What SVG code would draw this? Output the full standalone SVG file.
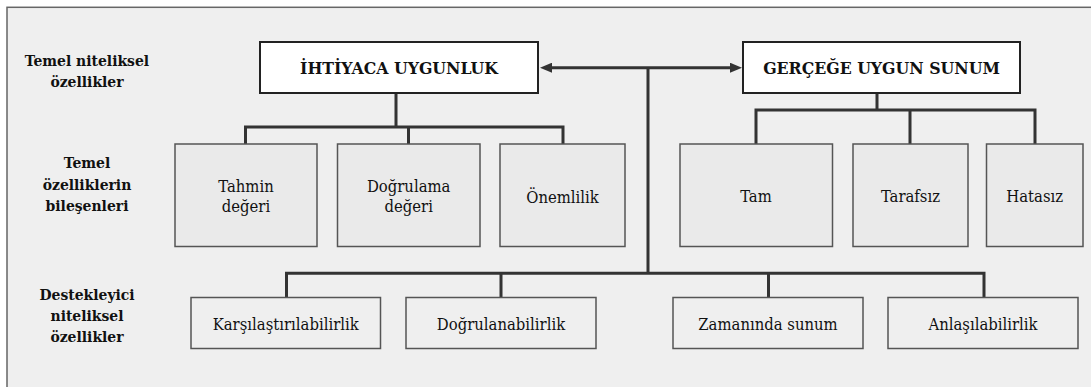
<svg xmlns="http://www.w3.org/2000/svg" width="1091" height="387" viewBox="0 0 1091 387">
<style>
  text { font-family: "DejaVu Serif Condensed", "DejaVu Serif", serif; font-stretch: condensed; font-size: 16.5px; fill: #111; text-anchor: middle; }
  .lbl { font-weight: bold; font-size: 15.5px; }
  .title { font-weight: bold; font-size: 17.5px; }
  .top { fill: #ffffff; stroke: #222; stroke-width: 2; }
  .mid { fill: #eaeaea; stroke: #555; stroke-width: 1.5; }
  .bot { fill: #efefef; stroke: #555; stroke-width: 1.5; }
  .conn { fill: none; stroke: #333; stroke-width: 3; }
</style>
<defs>
  <marker id="ah" markerUnits="userSpaceOnUse" markerWidth="12" markerHeight="10" refX="4" refY="5" orient="auto-start-reverse">
    <path d="M0,0 L12,5 L0,10 z" fill="#333"/>
  </marker>
</defs>
<rect x="0" y="0" width="1091" height="387" fill="#ffffff"/>
<rect x="7" y="7.3" width="1100" height="400" fill="#efefef" stroke="#666" stroke-width="1.5"/>

<g id="row-labels">
  <g id="label-temel">
    <text class="lbl" x="87" y="66">Temel niteliksel</text>
    <text class="lbl" x="87" y="87">özellikler</text>
  </g>
  <g id="label-bilesen">
    <text class="lbl" x="87" y="168">Temel</text>
    <text class="lbl" x="87" y="189.5">özelliklerin</text>
    <text class="lbl" x="87" y="211">bileşenleri</text>
  </g>
  <g id="label-destek">
    <text class="lbl" x="87" y="300">Destekleyici</text>
    <text class="lbl" x="87" y="321">niteliksel</text>
    <text class="lbl" x="87" y="342">özellikler</text>
  </g>
</g>

<g id="connectors">
  <path class="conn" d="M396,93 V127 M245.5,144 V127 H563 V144 M408.5,127 V144"/>
  <path class="conn" d="M877,93 V110 M756,144 V110 H1035 V144 M910,110 V144"/>
  <path class="conn" d="M648,67.7 V273.3 M286.5,297.5 V273.3 H984 V297.5 M501,273.3 V297.5 M768.5,273.3 V297.5"/>
  <line class="conn" x1="548" y1="67.7" x2="734" y2="67.7" marker-start="url(#ah)" marker-end="url(#ah)"/>
</g>

<g id="ihtiyaca">
  <rect class="top" x="260" y="42" width="278" height="51"/>
  <text class="title" x="399" y="74">İHTİYACA UYGUNLUK</text>
</g>
<g id="gercege">
  <rect class="top" x="743" y="42" width="277" height="51"/>
  <text class="title" x="881.5" y="74">GERÇEĞE UYGUN SUNUM</text>
</g>

<g id="tahmin">
  <rect class="mid" x="175" y="144" width="142" height="102.5"/>
  <text x="246" y="192">Tahmin</text>
  <text x="246" y="212">değeri</text>
</g>
<g id="dogrulama">
  <rect class="mid" x="337.5" y="144" width="142.5" height="102.5"/>
  <text x="408.7" y="192">Doğrulama</text>
  <text x="408.7" y="212">değeri</text>
</g>
<g id="onemlilik">
  <rect class="mid" x="500" y="144" width="125" height="102.5"/>
  <text x="562.5" y="202.5">Önemlilik</text>
</g>
<g id="tam">
  <rect class="mid" x="680" y="144" width="152.5" height="102.5"/>
  <text x="756" y="202">Tam</text>
</g>
<g id="tarafsiz">
  <rect class="mid" x="853" y="144" width="115" height="102.5"/>
  <text x="910.5" y="202">Tarafsız</text>
</g>
<g id="hatasiz">
  <rect class="mid" x="986.5" y="144" width="96.5" height="102.5"/>
  <text x="1034.7" y="202">Hatasız</text>
</g>

<g id="karsilastirilabilirlik">
  <rect class="bot" x="191" y="297.5" width="189.5" height="51"/>
  <text x="285.7" y="329.5">Karşılaştırılabilirlik</text>
</g>
<g id="dogrulanabilirlik">
  <rect class="bot" x="406" y="297.5" width="190" height="51"/>
  <text x="501" y="329.5">Doğrulanabilirlik</text>
</g>
<g id="zamaninda">
  <rect class="bot" x="673" y="297.5" width="190" height="51"/>
  <text x="768" y="329.5">Zamanında sunum</text>
</g>
<g id="anlasilabilirlik">
  <rect class="bot" x="888" y="297.5" width="190" height="51"/>
  <text x="983" y="329.5">Anlaşılabilirlik</text>
</g>
</svg>
